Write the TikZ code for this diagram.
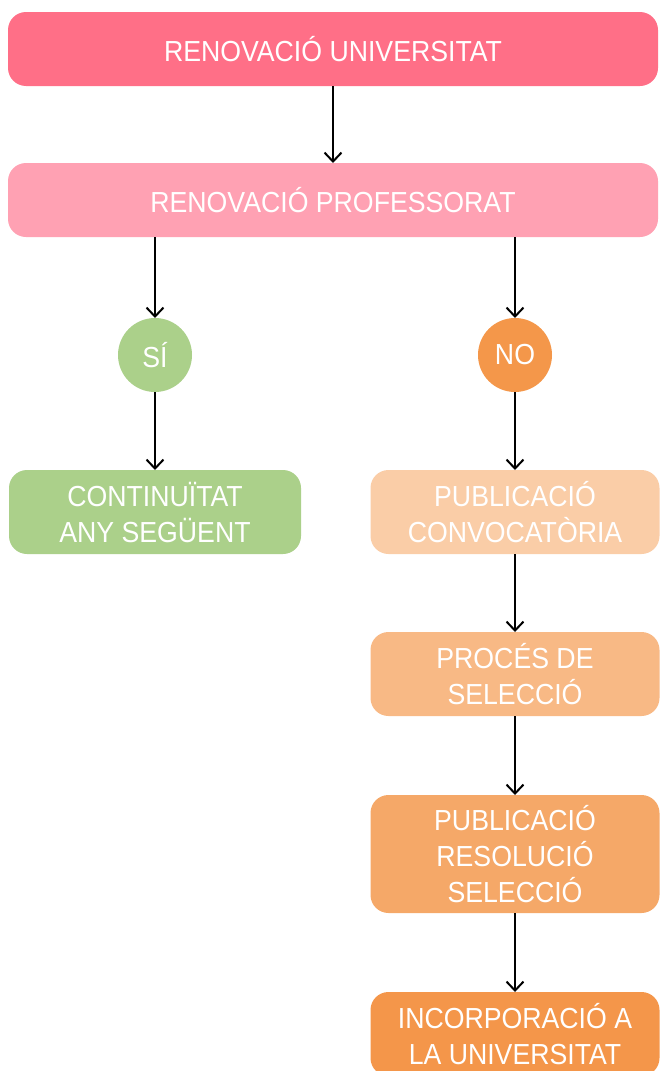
\documentclass[tikz,border=0pt]{standalone}
\usepackage{fontspec}
\setmainfont[FakeStretch=0.92]{Liberation Sans}
\usetikzlibrary{arrows.meta, positioning}

\definecolor{uniRed}{RGB}{255,111,135}
\definecolor{profPink}{RGB}{255,161,179}
\definecolor{yesGreen}{RGB}{171,208,138}
\definecolor{noOrange}{RGB}{244,151,74}
\definecolor{stepOne}{RGB}{250,205,167}
\definecolor{stepTwo}{RGB}{248,185,133}
\definecolor{stepThree}{RGB}{245,168,104}
\definecolor{stepFour}{RGB}{244,150,74}

\begin{document}
\begin{tikzpicture}[
			x=1pt, y=-1pt,
			>={Straight Barb[length=9pt, width=17pt]},
			font=\fontsize{29}{36}\selectfont,
			box/.style={rectangle, rounded corners=18pt, align=center, text=white, inner sep=0pt, outer sep=0pt, minimum height=84pt},
			wide/.style={box, minimum width=650pt, minimum height=74pt},
			col/.style={box, minimum width=289pt},
			answer/.style={circle, minimum size=74pt, inner sep=0pt, outer sep=0pt, text=white},
			link/.style={->, line width=2pt}
			]
			\useasboundingbox (0,0) rectangle (659,1071);
			
			% --- Capçalera ---
			\node[wide, fill=uniRed] (uni) at (333,49) {RENOVACIÓ UNIVERSITAT};
			\node[wide, fill=profPink, below=77pt of uni] (prof) {RENOVACIÓ PROFESSORAT};
			
			% --- Resposta ---
			\node[answer, fill=yesGreen] (yes) at (155,355) {SÍ};
			\node[answer, fill=noOrange] (no) at (515,355) {NO};
			
			% --- Branca del sí ---
			\node[col, fill=yesGreen, minimum width=292pt, below=78pt of yes] (cont) {CONTINUÏTAT\\ANY SEGÜENT};
			
			% --- Branca del no ---
			\node[col, fill=stepOne, below=78pt of no] (conv) {PUBLICACIÓ\\CONVOCATÒRIA};
			\node[col, fill=stepTwo, below=78pt of conv] (sel) {PROCÉS DE\\SELECCIÓ};
			\node[col, fill=stepThree, minimum height=118pt, below=79pt of sel] (res) {PUBLICACIÓ\\RESOLUCIÓ\\SELECCIÓ};
			\node[col, fill=stepFour, below=79pt of res] (inc) {INCORPORACIÓ A\\LA UNIVERSITAT};
			
			% --- Fletxes ---
			\draw[link] (uni) -- (prof);
			\draw[link] (prof.south -| yes) -- (yes);
			\draw[link] (prof.south -| no) -- (no);
			\draw[link] (yes) -- (cont);
			\draw[link] (no) -- (conv);
			\draw[link] (conv) -- (sel);
			\draw[link] (sel) -- (res);
			\draw[link] (res) -- (inc);
			
		\end{tikzpicture}
\end{document}
